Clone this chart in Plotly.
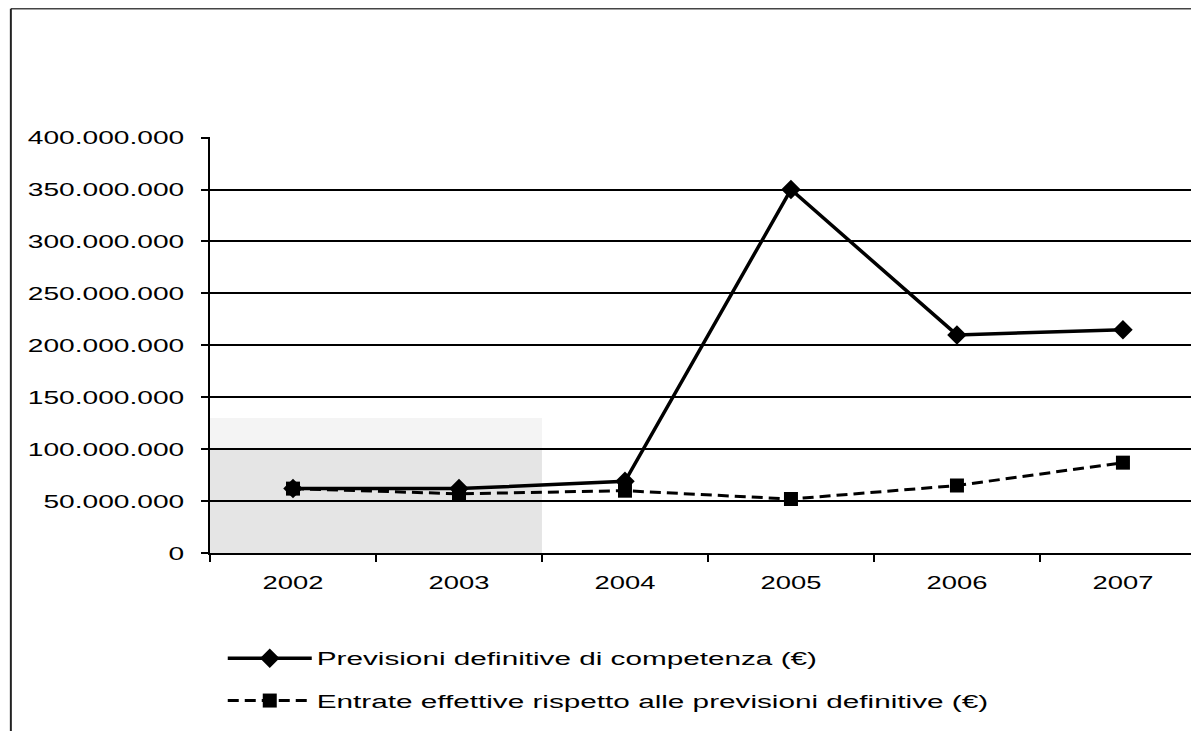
import plotly.graph_objects as go

years = ["2002", "2003", "2004", "2005", "2006", "2007"]
previsioni = [62e6, 62e6, 69e6, 350e6, 210e6, 215e6]
entrate = [62e6, 57e6, 60e6, 52e6, 65e6, 87e6]
name_prev = "Previsioni definitive di competenza (€)"
name_entr = "Entrate effettive rispetto alle previsioni definitive (€)"

FONT = "Liberation Sans, Arial, sans-serif"

fig = go.Figure()
fig.add_trace(go.Scatter(
    x=years, y=previsioni, name=name_prev, mode="lines+markers",
    line=dict(color="black", width=3.5),
    marker=dict(symbol="diamond", size=15, color="black"),
    legendgroup="a",
))
fig.add_trace(go.Scatter(
    x=years, y=entrate, name=name_entr, mode="lines+markers",
    line=dict(color="black", width=3, dash="11px,6px"),
    marker=dict(symbol="square", size=14, color="black"),
    legendgroup="b",
))

# scan shading in the lower left
fig.add_shape(type="rect", xref="x", yref="y", x0=-0.5, x1=1.5, y0=0, y1=100e6,
              fillcolor="rgba(150,150,150,0.25)", line_width=0, layer="below")
fig.add_shape(type="rect", xref="x", yref="y", x0=-0.5, x1=1.5, y0=100e6, y1=130e6,
              fillcolor="rgba(150,150,150,0.10)", line_width=0, layer="below")

# outer frame (top and left)
fig.add_shape(type="line", xref="paper", yref="paper", x0=-0.203, x1=1.0, y0=1.308, y1=1.308,
              line=dict(color="#444", width=1.5))
fig.add_shape(type="line", xref="paper", yref="paper", x0=-0.203, x1=-0.203, y0=1.308, y1=-0.43,
              line=dict(color="#222", width=2))

fig.update_layout(
    width=1191, height=731,
    margin=dict(l=210, r=0, t=137, b=178),
    paper_bgcolor="white", plot_bgcolor="white",
    separators=",.",
    font=dict(family=FONT, size=18, color="black"),
    showlegend=True,
    legend=dict(x=0.013, y=-0.209, xanchor="left", yanchor="top", itemwidth=84,
                tracegroupgap=16, font=dict(family=FONT, size=18, color="black"),
                bgcolor="rgba(0,0,0,0)"),
)
fig.update_xaxes(
    type="category", range=[-0.5, 5.41], showline=True, linecolor="black", linewidth=2,
    ticks="outside", ticklen=7, tickcolor="black", tickwidth=1.5, tickson="boundaries",
    showgrid=False, ticklabelstandoff=12, tickfont=dict(family=FONT, size=18),
)
fig.update_yaxes(
    range=[0, 400.6e6], dtick=50e6, tickformat=",d", showline=True, linecolor="black", linewidth=2,
    ticks="outside", ticklen=7, tickcolor="black", tickwidth=1.5,
    showgrid=True, gridcolor="black", gridwidth=1.8, zeroline=False,
    ticklabelstandoff=13, tickfont=dict(family=FONT, size=19),
)

post = """
var s = document.createElement('style');
s.innerHTML = 'body{margin:0 !important;} .legend .scrollbox{clip-path:none !important;}';
document.head.appendChild(s);
function stretchText(){
  var specs = [['.ytick text', 1.48], ['.xtick text', 1.52], ['.legendtext', 1.65]];
  specs.forEach(function(sp){
    document.querySelectorAll(sp[0]).forEach(function(el){
      if (el.getAttribute('data-w0')) return;
      var w = el.getComputedTextLength();
      if (!w) return;
      el.setAttribute('data-w0', w);
      el.setAttribute('textLength', w * sp[1]);
      el.setAttribute('lengthAdjust', 'spacingAndGlyphs');
    });
  });
}
stretchText();
setTimeout(stretchText, 50);
setTimeout(stretchText, 300);
"""

fig.write_html("out.html", post_script=post, config={"displayModeBar": False})
